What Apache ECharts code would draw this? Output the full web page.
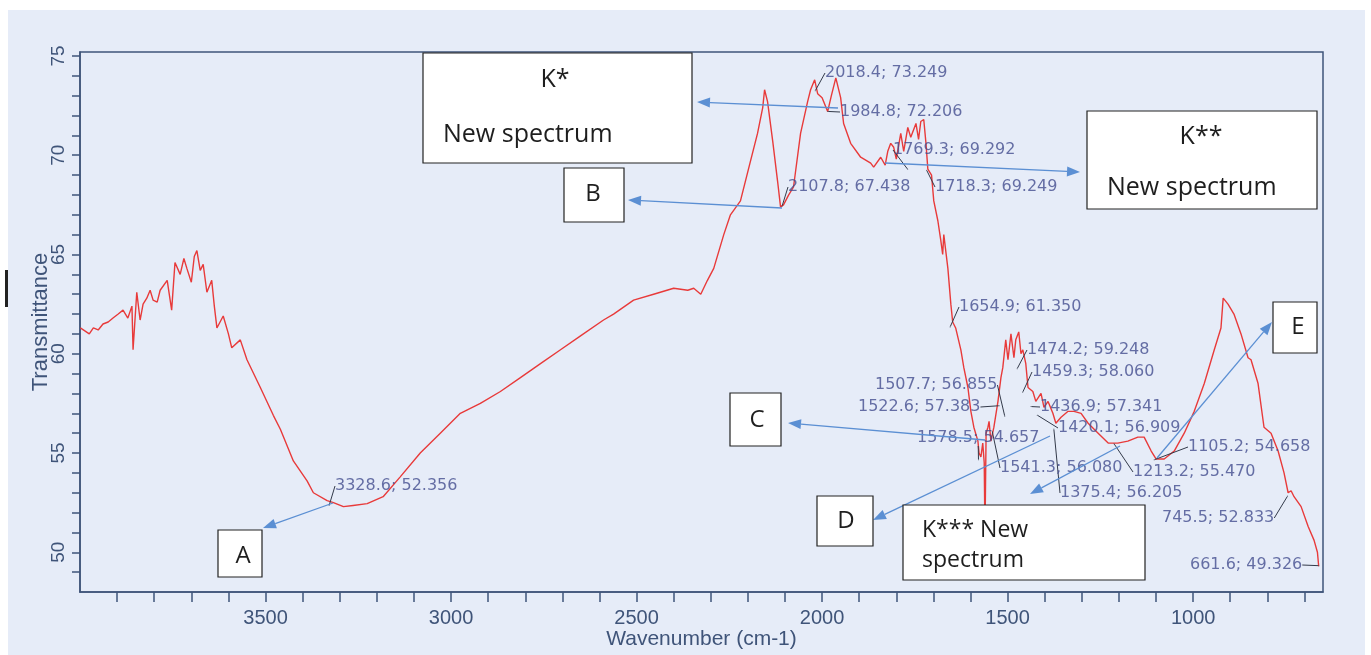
<!DOCTYPE html>
<html>
<head>
<meta charset="utf-8">
<script src="https://cdn.jsdelivr.net/npm/echarts@6/dist/echarts.min.js"></script>
<style>
html,body{margin:0;padding:0;background:#fff}
#chart{width:1371px;height:655px}
</style>
</head>
<body>
<div id="chart"></div>
<script>
// spectrum (wavenumber cm-1 / transmittance %)
var wavenumber = [3999,3995,3975,3964,3951,3938,3924,3911,3897,3884,3871,3860,3857,3847,3838,3830,3820,3811,3803,3792,3784,3765,3753,3744,3730,3720,3712,3700,3692,3685,
  3676,3668,3658,3645,3638,3631,3614,3600,3591,3568,3550,3514,3479,3460,
  3425,3388,3371,3334,3317,3290,3264,3226,3183,3137,3083,3029,2975,2921,2867,2813,2759,2705,2651,2589,2562,2508,2454,2400,2362,2346,2327,2309,2292,2265,
  2247,2220,2193,2174,2160,2155,2147,2133,2120,2112,2104,2090,2077,2058,2039,2031,2020,2012,2000,1985,1975,1963,1950,1942,1923,1896,1869,1861,1842,1830,
  1823,1815,1807,1800,1788,1780,1769,1761,1747,1740,1734,1726,1720,1715,1705,1699,1688,1680,1675,1672,1661,1653,1648,1640,1626,1618,1607,1599,1591,1580,
  1577,1572,1567,1563,1561,1558,1553,1550,1545,1537,1526,1518,1513,1505,1499,1491,1483,1478,1470,1464,1459,1451,1445,1432,1424,1410,1402,1391,1378,1370,
  1356,1337,1321,1302,1283,1256,1229,1203,1176,1149,1132,1113,1100,1078,1051,1024,997,970,943,925,919,906,890,871,852,844,825,809,790,771,
  755,744,736,728,709,690,674,665,661.6];
var transmittance = [61.3,61.25,61.0,61.3,61.2,61.5,61.6,61.8,62.0,62.2,61.8,62.4,60.2,63.1,61.7,62.5,62.8,63.2,62.7,62.6,63.2,63.7,62.2,64.6,64.0,64.8,64.3,63.6,64.9,65.2,
  64.2,64.5,63.1,63.7,62.4,61.3,61.9,61.0,60.3,60.7,59.7,58.3,56.9,56.2,
  54.6,53.6,53.0,52.6,52.5,52.3,52.36,52.45,52.8,53.8,55.0,56.0,57.0,57.5,58.1,58.8,59.5,60.2,60.9,61.7,62.0,62.7,63.0,63.3,63.2,63.3,63.0,63.7,64.3,66.0,
  67.0,67.7,69.7,71.1,72.4,73.3,72.7,70.7,68.7,67.4,67.5,68.0,68.4,71.1,72.7,73.3,73.8,73.1,72.9,72.2,73.0,73.9,72.9,71.6,70.6,69.9,69.6,69.4,69.9,69.5,
  70.2,70.6,70.4,69.8,71.1,70.2,71.4,70.9,71.6,70.8,71.7,71.8,70.6,69.3,69.0,67.7,66.7,65.7,65.0,66.0,64.3,62.5,61.6,61.3,60.2,59.3,58.3,57.1,56.3,55.6,
  55.0,54.8,55.5,54.5,50.8,56.0,56.3,56.6,55.6,56.3,57.6,58.8,59.3,60.7,59.7,61.0,59.8,60.7,61.1,60.0,60.2,59.5,58.3,58.1,57.6,58.0,57.3,57.6,57.0,56.5,
  56.8,57.1,57.1,57.0,56.5,56.0,55.5,55.5,55.6,55.8,55.8,55.1,54.7,54.7,55.1,56.0,57.1,58.5,60.2,61.3,62.8,62.5,62.0,61.0,59.8,59.7,58.5,56.3,56.0,55.1,
  54.0,53.0,53.1,52.8,52.3,51.3,50.6,50.0,49.3];

// picked peaks printed on the scan
var peakWn = [3328.6,2107.8,2018.4,1984.8,1769.3,1718.3,1654.9,1578.5,1541.3,1522.6,1507.7,1474.2,1459.3,1436.9,1420.1,1375.4,1213.2,1105.2,745.5,661.6];
var peakT  = [52.356,67.438,73.249,72.206,69.292,69.249,61.350,54.657,56.080,57.383,56.855,59.248,58.060,57.341,56.909,56.205,55.470,54.658,52.833,49.326];
// where each peak label sits on the page (left, middle)
var labelPos = [[335,486],[788,187],[825,73],[840,112],[893,150],[935,187],[959,307],[917,438],[1000,468],[858,407],[875,385],
  [1027,350],[1032,372],[1040,407],[1058,428],[1060,493],[1133,472],[1188,447],[1162,518],[1190,565]];

var xTicks = [700,800,900,1000,1100,1200,1300,1400,1500,1600,1700,1800,1900,2000,2100,2200,2300,2400,2500,2600,2700,2800,2900,3000,3100,3200,3300,3400,3500,3600,3700,3800,3900];
var xLabels = [1000,1500,2000,2500,3000,3500];
var yTicks = [49,50,51,52,53,54,55,56,57,58,59,60,61,62,63,64,65,66,67,68,69,70,71,72,73,74,75];
var yLabels = [50,55,60,65,70,75];

var spectrum = [];
for (var i = 0; i < wavenumber.length; i++) spectrum.push([wavenumber[i], transmittance[i]]);
var peaks = [];
for (var j = 0; j < peakWn.length; j++) peaks.push([peakWn[j], peakT[j], peakWn[j].toFixed(1) + '; ' + peakT[j].toFixed(3)]);

var axisCol = '#3f5479';
var blue = '#5b8fd3';

function arrow(x1, y1, x2, y2) {
    var a = Math.atan2(y2 - y1, x2 - x1), L = 13, W = 5;
    var bx = x2 - L * Math.cos(a), by = y2 - L * Math.sin(a);
    return [
        {type: 'line', z: 50, shape: {x1: x1, y1: y1, x2: bx, y2: by}, style: {stroke: blue, lineWidth: 1.3}},
        {type: 'polygon', z: 50, shape: {points: [[x2, y2], [bx + W * Math.sin(a), by - W * Math.cos(a)], [bx - W * Math.sin(a), by + W * Math.cos(a)]]}, style: {fill: blue}}
    ];
}
function box(x, y, w, h) {
    return {type: 'rect', z: 60, shape: {x: x, y: y, width: w, height: h}, style: {fill: '#fff', stroke: '#222', lineWidth: 1.2}};
}
function txt(x, y, s, size, align) {
    return {type: 'text', z: 61, x: x, y: y, style: {text: s, fill: '#1e1e1e', font: size + 'px "Open Sans"', align: align || 'center', verticalAlign: 'middle'}};
}

var graphics = [
    {type: 'rect', z: -100, shape: {x: 8, y: 10, width: 1357, height: 645}, style: {fill: '#e6ecf8'}},
    {type: 'rect', z: -90, shape: {x: 5, y: 270, width: 3, height: 37}, style: {fill: '#222'}}
];
graphics = graphics.concat(
    arrow(333, 503, 263, 528),
    arrow(838, 108, 697, 102),
    arrow(782, 208, 628, 200),
    arrow(885, 163, 1080, 172),
    arrow(985, 440, 788, 423),
    arrow(1050, 436, 873, 520),
    arrow(1120, 446, 1030, 494),
    arrow(1157, 458, 1272, 322)
);
graphics.push(
    box(423, 53, 269, 110), txt(555, 80, 'K*', 25), txt(443, 135, 'New spectrum', 25, 'left'),
    box(1087, 111, 230, 98), txt(1201, 137, 'K**', 25), txt(1107, 188, 'New spectrum', 25, 'left'),
    box(564, 168, 60, 54), txt(593, 194, 'B', 24),
    box(218, 530, 44, 47), txt(243, 556, 'A', 24),
    box(730, 393, 51, 53), txt(757, 420, 'C', 24),
    box(817, 496, 56, 50), txt(846, 521, 'D', 24),
    box(1273, 302, 44, 51), txt(1298, 327, 'E', 24),
    box(903, 505, 242, 75), txt(922, 530, 'K*** New', 23, 'left'), txt(922, 560, 'spectrum', 23, 'left')
);

var myChart = echarts.init(document.getElementById('chart'));
var option = {
    backgroundColor: '#fff',
    animation: false,
    grid: {left: 80, right: 48, top: 52, bottom: 63, show: true, borderColor: axisCol, borderWidth: 1.5,
        backgroundColor: 'transparent', outerBoundsMode: 'none', containLabel: false},
    xAxis: {
        type: 'value', inverse: true, min: 650, max: 4000,
        name: 'Wavenumber (cm-1)', nameLocation: 'middle', nameGap: 37, nameMoveOverlap: false,
        nameTextStyle: {color: axisCol, fontSize: 21, fontFamily: 'Liberation Sans'},
        axisLine: {lineStyle: {color: axisCol, width: 1.5}},
        axisTick: {length: 10, lineStyle: {color: axisCol, width: 1.5}, customValues: xTicks},
        axisLabel: {color: axisCol, fontSize: 20, fontFamily: 'Liberation Sans', margin: 16, customValues: xLabels,
            formatter: function (v) { return String(v); }},
        splitLine: {show: false}
    },
    yAxis: {
        type: 'value', min: 48, max: 75.2,
        name: 'Transmittance', nameLocation: 'middle', nameGap: 28, nameRotate: 90, nameMoveOverlap: false,
        nameTextStyle: {color: axisCol, fontSize: 22, fontFamily: 'Liberation Sans'},
        axisLine: {lineStyle: {color: axisCol, width: 1.5}},
        axisTick: {length: 8, lineStyle: {color: axisCol, width: 1.5}, customValues: yTicks},
        axisLabel: {color: axisCol, fontSize: 19, fontFamily: 'Liberation Sans', rotate: 90, margin: 12, customValues: yLabels},
        splitLine: {show: false}
    },
    series: [
        {
            type: 'line', data: spectrum, symbol: 'none', z: 3,
            lineStyle: {color: '#e83a3a', width: 1.4}
        },
        {
            type: 'scatter', data: peaks, symbolSize: 1, z: 5,
            itemStyle: {color: '#333a4a'},
            label: {
                show: true, position: 'right', formatter: function (p) { return p.value[2]; },
                color: '#434d8f', fontSize: 16, fontFamily: 'DejaVu Sans'
            },
            labelLine: {show: true, lineStyle: {color: '#333a4a', width: 1}},
            labelLayout: function (p) {
                var pos = labelPos[p.dataIndex];
                return {x: pos[0], y: pos[1], align: 'left', verticalAlign: 'middle'};
            }
        }
    ],
    graphic: {elements: graphics}
};
myChart.setOption(option);
</script>
</body>
</html>
